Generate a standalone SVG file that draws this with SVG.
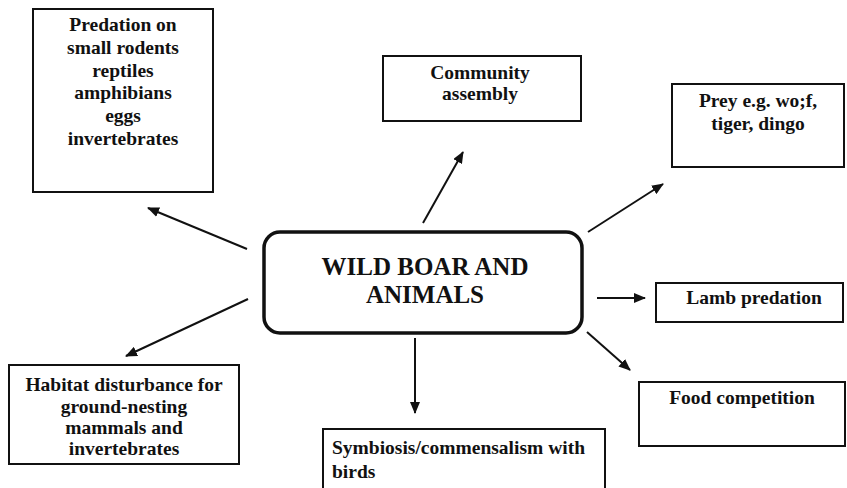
<svg xmlns="http://www.w3.org/2000/svg" width="847" height="488" viewBox="0 0 847 488">
<style>
.box{fill:#fff;stroke:#111;stroke-width:2}
text{font-family:'Liberation Serif','DejaVu Serif',serif;font-weight:bold;font-size:19.5px;fill:#111}
.c{text-anchor:middle}
.main{font-size:25px}
.con{stroke:#111;stroke-width:2;fill:none;marker-end:url(#ah)}
</style>
<defs>
<marker id="ah" markerWidth="12" markerHeight="10" refX="11" refY="5" orient="auto" markerUnits="userSpaceOnUse">
<path d="M0,0 L12,5 L0,10 Z" fill="#111"/>
</marker>
</defs>
<rect width="847" height="488" fill="#fff"/>
<g id="connectors">
<line class="con" x1="247" y1="249" x2="148" y2="208"/>
<line class="con" x1="423" y1="223" x2="463" y2="152"/>
<line class="con" x1="588" y1="232" x2="663" y2="184"/>
<line class="con" x1="597" y1="298" x2="645" y2="298"/>
<line class="con" x1="587" y1="332" x2="630" y2="370"/>
<line class="con" x1="415" y1="338" x2="415" y2="413"/>
<line class="con" x1="248" y1="299" x2="126" y2="356"/>
</g>
<g id="center">
<rect x="264" y="232" width="318" height="101" rx="16" ry="16" fill="#fff" stroke="#111" stroke-width="3.5"/>
<text class="c main" x="425" y="275">WILD BOAR AND</text>
<text class="c main" x="425" y="303">ANIMALS</text>
</g>
<g id="predation">
<rect class="box" x="33" y="9" width="180" height="183"/>
<text class="c" x="123" y="31">Predation on</text>
<text class="c" x="123" y="54">small rodents</text>
<text class="c" x="123" y="77">reptiles</text>
<text class="c" x="123" y="99">amphibians</text>
<text class="c" x="123" y="122">eggs</text>
<text class="c" x="123" y="145">invertebrates</text>
</g>
<g id="community">
<rect class="box" x="383" y="56" width="198" height="65"/>
<text class="c" x="480" y="79">Community</text>
<text class="c" x="480" y="100">assembly</text>
</g>
<g id="prey">
<rect class="box" x="672" y="84" width="172" height="83"/>
<text class="c" x="758" y="107">Prey e.g. wo;f,</text>
<text class="c" x="758" y="130">tiger, dingo</text>
</g>
<g id="lamb">
<rect class="box" x="656" y="283" width="187" height="39"/>
<text class="c" x="754" y="304">Lamb predation</text>
</g>
<g id="food">
<rect class="box" x="639" y="382" width="206" height="64"/>
<text class="c" x="742" y="404">Food competition</text>
</g>
<g id="habitat">
<rect class="box" x="9" y="365" width="230" height="99"/>
<text class="c" x="124" y="391">Habitat disturbance for</text>
<text class="c" x="124" y="413">ground-nesting</text>
<text class="c" x="124" y="434">mammals and</text>
<text class="c" x="124" y="455">invertebrates</text>
</g>
<g id="symbiosis">
<rect class="box" x="323" y="429" width="282" height="62"/>
<text x="332" y="454">Symbiosis/commensalism with</text>
<text x="332" y="478">birds</text>
</g>
</svg>
